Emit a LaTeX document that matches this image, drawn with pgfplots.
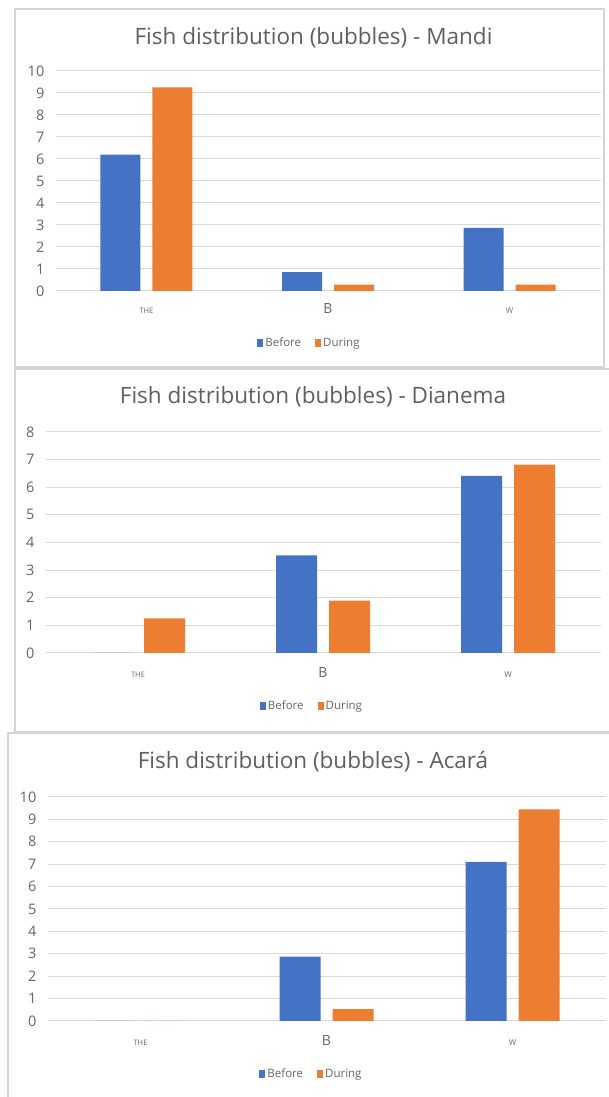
\documentclass[border=0pt]{standalone}
\usepackage{fontspec}
\setmainfont{Open Sans}
\usepackage{pgfplots}
\pgfplotsset{compat=1.18}
\definecolor{xblue}{HTML}{4472C4}
\definecolor{xorange}{HTML}{ED7D31}
\definecolor{xgrid}{HTML}{D9D9D9}
\definecolor{xtext}{HTML}{666666}
\definecolor{xtitle}{HTML}{5F5F5F}
\definecolor{xframe}{HTML}{D4D4D4}
\pgfplotsset{
  fishstyle/.style={
    scale only axis,
    anchor=south west,
    xmin=-0.5, xmax=2.5,
    ymin=0,
    axis line style={draw=none},
    major tick length=0pt,
    ymajorgrids,
    grid style={xgrid, line width=1pt},
    xtick={0,1,2},
    xticklabels={{\fontsize{7.5}{7.5}\selectfont THE},{\fontsize{14}{14}\selectfont B},{\fontsize{8}{8}\selectfont W}},
    yticklabel style={anchor=east, inner sep=0pt, xshift=-11pt, text=xtext, font=\fontsize{14.5}{15}\selectfont},
    /pgf/number format/assume math mode=true,
    ybar=12pt, bar width=40pt,
    legend columns=2,
    legend style={draw=none, fill=none, anchor=center, font=\fontsize{11.5}{11.5}\selectfont, text=xtext,
      /tikz/every even column/.append style={column sep=12pt}},
    legend image code/.code={\fill[##1] (0pt,-4pt) rectangle (6pt,4pt);},
  },
}
\begin{document}
\begin{tikzpicture}[x=1pt,y=1pt]
\clip (0,0) rectangle (609,1097);
\fill[white] (0,0) rectangle (609,1097);
% frames
\draw[xframe, line width=1.3pt] (15,730) rectangle (604,1088);
\draw[xframe, line width=1.3pt] (15,365) rectangle (612,728);
\draw[xframe, line width=1.3pt] (8,-5) rectangle (612,364);

% Panel 1: Mandi
\begin{axis}[fishstyle,
  at={(55.5pt,806pt)}, width=545pt, height=220pt,
  ymax=10, ytick={0,1,...,10},
  xticklabel style={anchor=base, inner sep=0pt, text=xtext, yshift=-23pt},
  legend style={at={(axis description cs:0.4661,-0.2364)}},
]
\addplot[fill=xblue, draw=none] coordinates {(0,6.2) (1,0.86) (2,2.87)};
\addplot[fill=xorange, draw=none] coordinates {(0,9.25) (1,0.29) (2,0.29)};
\legend{Before, During}
\end{axis}
\node[font=\fontsize{22.5}{24}\selectfont, text=xtitle] at (313.5,1059) {Fish distribution (bubbles) - Mandi};

% Panel 2: Dianema
\begin{axis}[fishstyle,
  at={(45.5pt,444pt)}, width=555pt, height=221pt,
  ymax=8, ytick={0,1,...,8}, bar width=41pt,
  xticklabel style={anchor=base, inner sep=0pt, text=xtext, yshift=-25pt},
  legend style={at={(axis description cs:0.4802,-0.2398)}},
]
\addplot[fill=xblue, draw=none] coordinates {(0,0) (1,3.53) (2,6.41)};
\addplot[fill=xorange, draw=none] coordinates {(0,1.25) (1,1.9) (2,6.82)};
\legend{Before, During}
\end{axis}
\node[font=\fontsize{22.5}{24}\selectfont, text=xtitle] at (313,700) {Fish distribution (bubbles) - Dianema};

% Panel 3: Acara
\begin{axis}[fishstyle,
  at={(47.5pt,76pt)}, width=558pt, height=224pt,
  ymax=10, ytick={0,1,...,10}, bar width=41pt,
  xticklabel style={anchor=base, inner sep=0pt, text=xtext, yshift=-24pt},
  legend style={at={(axis description cs:0.4731,-0.2366)}},
]
\addplot[fill=xblue, draw=none] coordinates {(0,0) (1,2.87) (2,7.1)};
\addplot[fill=xorange, draw=none] coordinates {(0,0) (1,0.53) (2,9.45)};
\legend{Before, During}
\end{axis}
\node[font=\fontsize{22.5}{24}\selectfont, text=xtitle] at (313,335) {Fish distribution (bubbles) - Acará};
\end{tikzpicture}
\end{document}
